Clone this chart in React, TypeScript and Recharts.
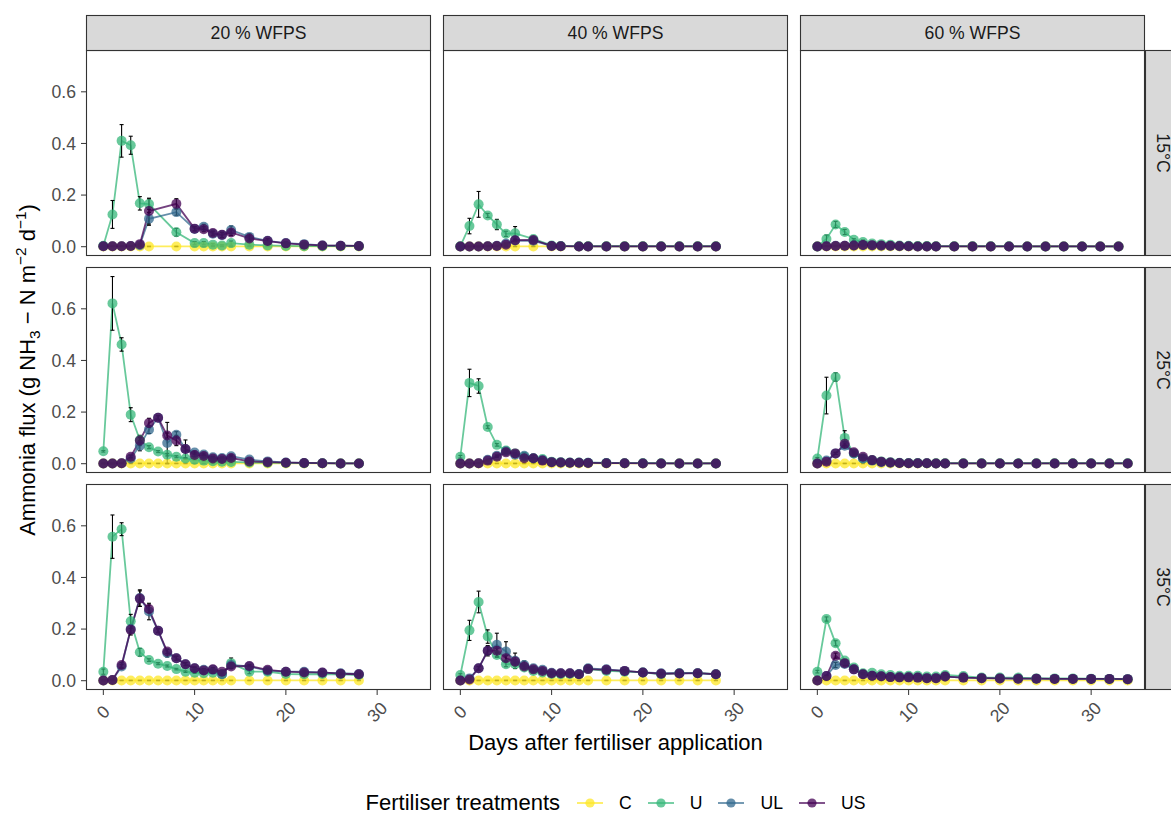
import { LineChart, Line, XAxis, YAxis, ErrorBar } from "recharts";

// sampling days (one list per sampling scheme)
const daysA = [0, 1, 2, 3, 4, 5, 8, 10, 11, 12, 13, 14, 16, 18, 20, 22, 24, 26, 28];
const daysB = [0, 1, 2, 3, 4, 5, 6, 8, 10, 11, 13, 14, 16, 18, 20, 22, 24, 26, 28];
const daysC = [0, 1, 2, 3, 4, 5, 6, 7, 8, 9, 10, 11, 12, 13, 15, 17, 19, 21, 23, 25, 27, 29, 31, 33];
const daysD = [0, 1, 2, 3, 4, 5, 6, 7, 8, 9, 10, 11, 12, 13, 14, 16, 18, 20, 22, 24, 26, 28];
const daysE = [0, 1, 2, 3, 4, 5, 6, 7, 8, 9, 10, 11, 12, 13, 14, 16, 18, 20, 22, 24, 26, 28, 30, 32, 34];

// 15°C, 20 % WFPS
const c15w20 = [0.001, 0.001, 0.001, 0.001, 0.001, 0.001, 0.001, 0.001, 0.001, 0.001, 0.001, 0.001, 0.001, 0.001, 0.001, 0.001, 0.001, 0.001, 0.001];
const u15w20 = [0.004, 0.125, 0.41, 0.393, 0.168, 0.165, 0.056, 0.014, 0.014, 0.008, 0.005, 0.014, 0.008, 0.005, 0.003, 0.002, 0.002, 0.002, 0.002];
const ul15w20 = [0.002, 0.002, 0.002, 0.003, 0.006, 0.108, 0.134, 0.069, 0.077, 0.05, 0.045, 0.065, 0.038, 0.023, 0.014, 0.01, 0.005, 0.004, 0.003];
const us15w20 = [0.002, 0.002, 0.002, 0.003, 0.01, 0.138, 0.166, 0.07, 0.068, 0.053, 0.046, 0.055, 0.032, 0.022, 0.013, 0.008, 0.005, 0.004, 0.003];
const seC15w20 = [0.001, 0.001, 0.001, 0.001, 0.001, 0.001, 0.001, 0.001, 0.001, 0.001, 0.001, 0.001, 0.001, 0.001, 0.001, 0.001, 0.001, 0.001, 0.001];
const seU15w20 = [0.002, 0.054, 0.063, 0.035, 0.026, 0.02, 0.015, 0.006, 0.006, 0.004, 0.003, 0.008, 0.004, 0.003, 0.002, 0.002, 0.001, 0.001, 0.001];
const seUL15w20 = [0.001, 0.001, 0.001, 0.001, 0.002, 0.025, 0.012, 0.008, 0.01, 0.008, 0.01, 0.015, 0.012, 0.008, 0.004, 0.004, 0.002, 0.001, 0.001];
const seUS15w20 = [0.001, 0.001, 0.001, 0.001, 0.004, 0.05, 0.02, 0.008, 0.01, 0.008, 0.01, 0.012, 0.01, 0.008, 0.004, 0.004, 0.002, 0.001, 0.001];

// 15°C, 40 % WFPS
const c15w40 = [0.001, 0.001, 0.001, 0.001, 0.001, 0.001, 0.001, 0.001, 0.001, 0.001, 0.001, 0.001, 0.001, 0.001, 0.001, 0.001, 0.001, 0.001, 0.001];
const u15w40 = [0.002, 0.08, 0.164, 0.121, 0.086, 0.05, 0.052, 0.03, 0.005, 0.003, 0.002, 0.002, 0.002, 0.002, 0.002, 0.002, 0.002, 0.002, 0.002];
const ul15w40 = [0.001, 0.001, 0.001, 0.002, 0.004, 0.012, 0.024, 0.023, 0.003, 0.002, 0.001, 0.001, 0.001, 0.001, 0.001, 0.001, 0.001, 0.001, 0.001];
const us15w40 = [0.001, 0.001, 0.001, 0.002, 0.003, 0.008, 0.025, 0.026, 0.003, 0.002, 0.001, 0.001, 0.001, 0.001, 0.001, 0.001, 0.001, 0.001, 0.001];
const seC15w40 = [0.001, 0.001, 0.001, 0.001, 0.001, 0.001, 0.001, 0.001, 0.001, 0.001, 0.001, 0.001, 0.001, 0.001, 0.001, 0.001, 0.001, 0.001, 0.001];
const seU15w40 = [0.001, 0.03, 0.05, 0.008, 0.02, 0.01, 0.026, 0.005, 0.002, 0.001, 0.001, 0.001, 0.001, 0.001, 0.001, 0.001, 0.001, 0.001, 0.001];
const seUL15w40 = [0.001, 0.001, 0.001, 0.001, 0.001, 0.003, 0.005, 0.004, 0.001, 0.001, 0.001, 0.001, 0.001, 0.001, 0.001, 0.001, 0.001, 0.001, 0.001];
const seUS15w40 = [0.001, 0.001, 0.001, 0.001, 0.001, 0.003, 0.005, 0.004, 0.001, 0.001, 0.001, 0.001, 0.001, 0.001, 0.001, 0.001, 0.001, 0.001, 0.001];

// 15°C, 60 % WFPS
const c15w60 = [0.001, 0.001, 0.001, 0.001, 0.001, 0.001, 0.001, 0.001, 0.001, 0.001, 0.001, 0.001, 0.001, 0.001, 0.001, 0.001, 0.001, 0.001, 0.001, 0.001, 0.001, 0.001, 0.001, 0.001];
const u15w60 = [0.001, 0.03, 0.086, 0.057, 0.027, 0.018, 0.012, 0.01, 0.008, 0.005, 0.004, 0.003, 0.003, 0.002, 0.002, 0.002, 0.002, 0.002, 0.001, 0.001, 0.001, 0.001, 0.001, 0.001];
const ul15w60 = [0.001, 0.002, 0.004, 0.004, 0.005, 0.006, 0.005, 0.004, 0.003, 0.002, 0.002, 0.001, 0.001, 0.001, 0.001, 0.001, 0.001, 0.001, 0.001, 0.001, 0.001, 0.001, 0.001, 0.001];
const us15w60 = [0.001, 0.002, 0.003, 0.004, 0.005, 0.007, 0.006, 0.005, 0.004, 0.003, 0.002, 0.001, 0.001, 0.001, 0.001, 0.001, 0.001, 0.001, 0.001, 0.001, 0.001, 0.001, 0.001, 0.001];
const seC15w60 = [0.001, 0.001, 0.001, 0.001, 0.001, 0.001, 0.001, 0.001, 0.001, 0.001, 0.001, 0.001, 0.001, 0.001, 0.001, 0.001, 0.001, 0.001, 0.001, 0.001, 0.001, 0.001, 0.001, 0.001];
const seU15w60 = [0.001, 0.015, 0.012, 0.01, 0.004, 0.008, 0.002, 0.002, 0.001, 0.001, 0.001, 0.001, 0.001, 0.001, 0.001, 0.001, 0.001, 0.001, 0.001, 0.001, 0.001, 0.001, 0.001, 0.001];
const seUL15w60 = [0.001, 0.001, 0.001, 0.001, 0.001, 0.002, 0.001, 0.001, 0.001, 0.001, 0.001, 0.001, 0.001, 0.001, 0.001, 0.001, 0.001, 0.001, 0.001, 0.001, 0.001, 0.001, 0.001, 0.001];
const seUS15w60 = [0.001, 0.001, 0.001, 0.001, 0.001, 0.002, 0.001, 0.001, 0.001, 0.001, 0.001, 0.001, 0.001, 0.001, 0.001, 0.001, 0.001, 0.001, 0.001, 0.001, 0.001, 0.001, 0.001, 0.001];

// 25°C, 20 % WFPS
const c25w20 = [0.001, 0.001, 0.001, 0.001, 0.001, 0.001, 0.001, 0.001, 0.001, 0.001, 0.001, 0.001, 0.001, 0.001, 0.001, 0.001, 0.001, 0.001, 0.001, 0.001, 0.001, 0.001];
const u25w20 = [0.048, 0.621, 0.462, 0.19, 0.092, 0.064, 0.047, 0.035, 0.027, 0.02, 0.015, 0.012, 0.01, 0.008, 0.007, 0.005, 0.004, 0.003, 0.002, 0.002, 0.001, 0.001];
const ul25w20 = [0.001, 0.001, 0.002, 0.02, 0.07, 0.132, 0.178, 0.08, 0.112, 0.057, 0.043, 0.036, 0.025, 0.022, 0.029, 0.016, 0.009, 0.005, 0.003, 0.002, 0.001, 0.001];
const us25w20 = [0.001, 0.001, 0.002, 0.027, 0.09, 0.158, 0.178, 0.109, 0.09, 0.057, 0.034, 0.03, 0.02, 0.018, 0.022, 0.009, 0.006, 0.004, 0.003, 0.002, 0.001, 0.001];
const seC25w20 = [0.001, 0.001, 0.001, 0.001, 0.001, 0.001, 0.001, 0.001, 0.001, 0.001, 0.001, 0.001, 0.001, 0.001, 0.001, 0.001, 0.001, 0.001, 0.001, 0.001, 0.001, 0.001];
const seU25w20 = [0.003, 0.104, 0.026, 0.027, 0.01, 0.006, 0.004, 0.005, 0.004, 0.003, 0.003, 0.003, 0.002, 0.002, 0.002, 0.002, 0.001, 0.001, 0.001, 0.001, 0.001, 0.001];
const seUL25w20 = [0.001, 0.001, 0.001, 0.004, 0.02, 0.015, 0.008, 0.08, 0.012, 0.035, 0.006, 0.005, 0.004, 0.004, 0.005, 0.003, 0.002, 0.001, 0.001, 0.001, 0.001, 0.001];
const seUS25w20 = [0.001, 0.001, 0.001, 0.006, 0.02, 0.018, 0.008, 0.01, 0.02, 0.008, 0.008, 0.004, 0.004, 0.004, 0.008, 0.002, 0.002, 0.001, 0.001, 0.001, 0.001, 0.001];

// 25°C, 40 % WFPS
const c25w40 = [0.001, 0.001, 0.001, 0.001, 0.001, 0.001, 0.001, 0.001, 0.001, 0.001, 0.001, 0.001, 0.001, 0.001, 0.001, 0.001, 0.001, 0.001, 0.001, 0.001, 0.001, 0.001];
const u25w40 = [0.027, 0.313, 0.301, 0.142, 0.073, 0.051, 0.04, 0.027, 0.021, 0.018, 0.008, 0.006, 0.005, 0.005, 0.004, 0.003, 0.002, 0.002, 0.002, 0.001, 0.001, 0.001];
const ul25w40 = [0.001, 0.001, 0.002, 0.015, 0.031, 0.048, 0.035, 0.031, 0.021, 0.014, 0.006, 0.005, 0.004, 0.004, 0.004, 0.003, 0.002, 0.002, 0.001, 0.001, 0.001, 0.001];
const us25w40 = [0.001, 0.001, 0.002, 0.012, 0.027, 0.044, 0.04, 0.021, 0.021, 0.012, 0.006, 0.005, 0.004, 0.004, 0.003, 0.002, 0.002, 0.001, 0.001, 0.001, 0.001, 0.001];
const seC25w40 = [0.001, 0.001, 0.001, 0.001, 0.001, 0.001, 0.001, 0.001, 0.001, 0.001, 0.001, 0.001, 0.001, 0.001, 0.001, 0.001, 0.001, 0.001, 0.001, 0.001, 0.001, 0.001];
const seU25w40 = [0.005, 0.053, 0.028, 0.005, 0.005, 0.003, 0.003, 0.002, 0.002, 0.002, 0.002, 0.001, 0.001, 0.001, 0.001, 0.001, 0.001, 0.001, 0.001, 0.001, 0.001, 0.001];
const seUL25w40 = [0.001, 0.001, 0.001, 0.002, 0.003, 0.004, 0.004, 0.012, 0.003, 0.002, 0.002, 0.001, 0.001, 0.001, 0.001, 0.001, 0.001, 0.001, 0.001, 0.001, 0.001, 0.001];
const seUS25w40 = [0.001, 0.001, 0.001, 0.002, 0.003, 0.004, 0.004, 0.003, 0.012, 0.002, 0.002, 0.001, 0.001, 0.001, 0.001, 0.001, 0.001, 0.001, 0.001, 0.001, 0.001, 0.001];

// 25°C, 60 % WFPS
const c25w60 = [0.001, 0.001, 0.001, 0.001, 0.001, 0.001, 0.001, 0.001, 0.001, 0.001, 0.001, 0.001, 0.001, 0.001, 0.001, 0.001, 0.001, 0.001, 0.001, 0.001, 0.001, 0.001, 0.001, 0.001, 0.001];
const u25w60 = [0.02, 0.264, 0.336, 0.1, 0.04, 0.02, 0.014, 0.009, 0.006, 0.004, 0.003, 0.003, 0.002, 0.002, 0.002, 0.002, 0.002, 0.002, 0.002, 0.002, 0.002, 0.002, 0.002, 0.002, 0.002];
const ul25w60 = [0.001, 0.012, 0.04, 0.07, 0.04, 0.02, 0.012, 0.006, 0.004, 0.003, 0.002, 0.002, 0.002, 0.001, 0.001, 0.001, 0.001, 0.001, 0.001, 0.001, 0.001, 0.001, 0.001, 0.001, 0.001];
const us25w60 = [0.001, 0.008, 0.04, 0.077, 0.044, 0.027, 0.014, 0.008, 0.005, 0.003, 0.002, 0.002, 0.002, 0.001, 0.001, 0.001, 0.001, 0.001, 0.001, 0.001, 0.001, 0.001, 0.001, 0.001, 0.001];
const seC25w60 = [0.001, 0.001, 0.001, 0.001, 0.001, 0.001, 0.001, 0.001, 0.001, 0.001, 0.001, 0.001, 0.001, 0.001, 0.001, 0.001, 0.001, 0.001, 0.001, 0.001, 0.001, 0.001, 0.001, 0.001, 0.001];
const seU25w60 = [0.004, 0.071, 0.016, 0.028, 0.003, 0.002, 0.002, 0.001, 0.001, 0.001, 0.001, 0.001, 0.001, 0.001, 0.001, 0.001, 0.001, 0.001, 0.001, 0.001, 0.001, 0.001, 0.001, 0.001, 0.001];
const seUL25w60 = [0.001, 0.002, 0.004, 0.01, 0.006, 0.005, 0.002, 0.001, 0.001, 0.001, 0.001, 0.001, 0.001, 0.001, 0.001, 0.001, 0.001, 0.001, 0.001, 0.001, 0.001, 0.001, 0.001, 0.001, 0.001];
const seUS25w60 = [0.001, 0.002, 0.004, 0.008, 0.005, 0.004, 0.002, 0.001, 0.001, 0.001, 0.001, 0.001, 0.001, 0.001, 0.001, 0.001, 0.001, 0.001, 0.001, 0.001, 0.001, 0.001, 0.001, 0.001, 0.001];

// 35°C, 20 % WFPS
const c35w20 = [0.001, 0.001, 0.001, 0.001, 0.001, 0.001, 0.001, 0.001, 0.001, 0.001, 0.001, 0.001, 0.001, 0.001, 0.001, 0.001, 0.001, 0.001, 0.001, 0.001, 0.001, 0.001];
const u35w20 = [0.035, 0.558, 0.587, 0.23, 0.11, 0.08, 0.066, 0.057, 0.045, 0.035, 0.031, 0.029, 0.031, 0.025, 0.068, 0.035, 0.035, 0.026, 0.025, 0.026, 0.025, 0.022];
const ul35w20 = [0.001, 0.003, 0.055, 0.2, 0.32, 0.268, 0.194, 0.107, 0.087, 0.064, 0.048, 0.042, 0.042, 0.025, 0.061, 0.055, 0.039, 0.035, 0.035, 0.031, 0.029, 0.026];
const us35w20 = [0.001, 0.003, 0.061, 0.197, 0.318, 0.278, 0.194, 0.113, 0.087, 0.064, 0.048, 0.04, 0.044, 0.035, 0.055, 0.057, 0.042, 0.035, 0.032, 0.032, 0.027, 0.025];
const seC35w20 = [0.001, 0.001, 0.001, 0.001, 0.001, 0.001, 0.001, 0.001, 0.001, 0.001, 0.001, 0.001, 0.001, 0.001, 0.001, 0.001, 0.001, 0.001, 0.001, 0.001, 0.001, 0.001];
const seU35w20 = [0.01, 0.084, 0.025, 0.027, 0.015, 0.005, 0.004, 0.004, 0.003, 0.003, 0.003, 0.003, 0.003, 0.003, 0.02, 0.008, 0.004, 0.003, 0.003, 0.003, 0.003, 0.003];
const seUL35w20 = [0.001, 0.002, 0.008, 0.015, 0.032, 0.032, 0.008, 0.015, 0.008, 0.006, 0.005, 0.005, 0.008, 0.005, 0.008, 0.006, 0.004, 0.004, 0.004, 0.004, 0.004, 0.004];
const seUS35w20 = [0.001, 0.002, 0.01, 0.02, 0.03, 0.015, 0.006, 0.008, 0.008, 0.006, 0.005, 0.005, 0.005, 0.005, 0.006, 0.005, 0.004, 0.004, 0.004, 0.004, 0.003, 0.003];

// 35°C, 40 % WFPS
const c35w40 = [0.001, 0.001, 0.001, 0.001, 0.001, 0.001, 0.001, 0.001, 0.001, 0.001, 0.001, 0.001, 0.001, 0.001, 0.001, 0.001, 0.001, 0.001, 0.001, 0.001, 0.001, 0.001];
const u35w40 = [0.022, 0.195, 0.305, 0.171, 0.1, 0.064, 0.064, 0.051, 0.038, 0.032, 0.026, 0.025, 0.026, 0.025, 0.045, 0.038, 0.035, 0.032, 0.025, 0.029, 0.029, 0.025];
const ul35w40 = [0.001, 0.009, 0.048, 0.116, 0.139, 0.113, 0.077, 0.061, 0.048, 0.042, 0.031, 0.029, 0.029, 0.026, 0.048, 0.044, 0.038, 0.032, 0.029, 0.029, 0.029, 0.025];
const us35w40 = [0.001, 0.005, 0.048, 0.116, 0.116, 0.087, 0.074, 0.055, 0.044, 0.038, 0.029, 0.029, 0.029, 0.025, 0.045, 0.042, 0.038, 0.032, 0.027, 0.028, 0.029, 0.025];
const seC35w40 = [0.001, 0.001, 0.001, 0.001, 0.001, 0.001, 0.001, 0.001, 0.001, 0.001, 0.001, 0.001, 0.001, 0.001, 0.001, 0.001, 0.001, 0.001, 0.001, 0.001, 0.001, 0.001];
const seU35w40 = [0.005, 0.039, 0.042, 0.026, 0.01, 0.01, 0.008, 0.006, 0.004, 0.004, 0.004, 0.003, 0.004, 0.003, 0.006, 0.005, 0.004, 0.004, 0.003, 0.003, 0.003, 0.003];
const seUL35w40 = [0.001, 0.002, 0.008, 0.015, 0.045, 0.038, 0.03, 0.015, 0.006, 0.006, 0.005, 0.004, 0.005, 0.004, 0.005, 0.005, 0.004, 0.004, 0.004, 0.004, 0.004, 0.003];
const seUS35w40 = [0.001, 0.002, 0.006, 0.02, 0.01, 0.01, 0.008, 0.008, 0.005, 0.005, 0.004, 0.004, 0.004, 0.004, 0.005, 0.004, 0.004, 0.004, 0.003, 0.003, 0.003, 0.003];

// 35°C, 60 % WFPS
const c35w60 = [0.001, 0.001, 0.001, 0.001, 0.001, 0.001, 0.001, 0.001, 0.001, 0.001, 0.001, 0.001, 0.001, 0.001, 0.001, 0.001, 0.001, 0.001, 0.001, 0.001, 0.001, 0.001, 0.001, 0.001, 0.001];
const u35w60 = [0.035, 0.239, 0.145, 0.078, 0.051, 0.029, 0.031, 0.025, 0.022, 0.019, 0.019, 0.019, 0.016, 0.016, 0.022, 0.018, 0.012, 0.012, 0.012, 0.009, 0.009, 0.009, 0.008, 0.007, 0.006];
const ul35w60 = [0.001, 0.018, 0.061, 0.065, 0.044, 0.025, 0.019, 0.017, 0.014, 0.013, 0.013, 0.012, 0.01, 0.01, 0.016, 0.012, 0.01, 0.009, 0.008, 0.008, 0.007, 0.007, 0.007, 0.007, 0.006];
const us35w60 = [0.001, 0.018, 0.097, 0.068, 0.044, 0.025, 0.019, 0.017, 0.014, 0.013, 0.013, 0.012, 0.01, 0.01, 0.016, 0.012, 0.01, 0.009, 0.008, 0.008, 0.007, 0.007, 0.007, 0.007, 0.006];
const seC35w60 = [0.001, 0.001, 0.001, 0.001, 0.001, 0.001, 0.001, 0.001, 0.001, 0.001, 0.001, 0.001, 0.001, 0.001, 0.001, 0.001, 0.001, 0.001, 0.001, 0.001, 0.001, 0.001, 0.001, 0.001, 0.001];
const seU35w60 = [0.005, 0.008, 0.01, 0.005, 0.004, 0.003, 0.002, 0.002, 0.002, 0.002, 0.002, 0.002, 0.002, 0.002, 0.002, 0.002, 0.002, 0.002, 0.002, 0.002, 0.002, 0.002, 0.002, 0.002, 0.002];
const seUL35w60 = [0.001, 0.003, 0.01, 0.008, 0.004, 0.015, 0.003, 0.002, 0.002, 0.002, 0.002, 0.002, 0.002, 0.002, 0.002, 0.002, 0.002, 0.002, 0.002, 0.002, 0.002, 0.002, 0.002, 0.002, 0.002];
const seUS35w60 = [0.001, 0.003, 0.01, 0.008, 0.004, 0.003, 0.003, 0.002, 0.002, 0.002, 0.002, 0.002, 0.002, 0.002, 0.002, 0.002, 0.002, 0.002, 0.002, 0.002, 0.002, 0.002, 0.002, 0.002, 0.002];

const wfpsLabels = ["20 % WFPS", "40 % WFPS", "60 % WFPS"];
const tempLabels = ["15°C", "25°C", "35°C"];
const treatments = ["C", "U", "UL", "US"];
const xTicks = [0, 10, 20, 30];
const yTicks = [0, 0.2, 0.4, 0.6];

const COLORS: Record<string, string> = {
  C: "#FDE725",
  U: "#35B779",
  UL: "#31688E",
  US: "#440154",
};

type Panel = { days: number[]; vals: number[][]; errs: number[][] };

// rows = temperature, columns = WFPS; vals/errs in order C, U, UL, US
const panels: Panel[][] = [
  [
    { days: daysA, vals: [c15w20, u15w20, ul15w20, us15w20], errs: [seC15w20, seU15w20, seUL15w20, seUS15w20] },
    { days: daysB, vals: [c15w40, u15w40, ul15w40, us15w40], errs: [seC15w40, seU15w40, seUL15w40, seUS15w40] },
    { days: daysC, vals: [c15w60, u15w60, ul15w60, us15w60], errs: [seC15w60, seU15w60, seUL15w60, seUS15w60] },
  ],
  [
    { days: daysD, vals: [c25w20, u25w20, ul25w20, us25w20], errs: [seC25w20, seU25w20, seUL25w20, seUS25w20] },
    { days: daysD, vals: [c25w40, u25w40, ul25w40, us25w40], errs: [seC25w40, seU25w40, seUL25w40, seUS25w40] },
    { days: daysE, vals: [c25w60, u25w60, ul25w60, us25w60], errs: [seC25w60, seU25w60, seUL25w60, seUS25w60] },
  ],
  [
    { days: daysD, vals: [c35w20, u35w20, ul35w20, us35w20], errs: [seC35w20, seU35w20, seUL35w20, seUS35w20] },
    { days: daysD, vals: [c35w40, u35w40, ul35w40, us35w40], errs: [seC35w40, seU35w40, seUL35w40, seUS35w40] },
    { days: daysE, vals: [c35w60, u35w60, ul35w60, us35w60], errs: [seC35w60, seU35w60, seUL35w60, seUS35w60] },
  ],
];

// layout
const COL_X = [86, 443, 800];
const ROW_Y = [50, 267, 484];
const PW = 345;
const PH = 206;
const YW = 60;
const XH = 40;
const STRIP = 35;
const FONT = "'Liberation Sans', Arial, Helvetica, sans-serif";
const ALPHA = 0.75;

const XTick = (props: any) => {
  const { x, y, payload } = props;
  const cy = y + 15;
  return (
    <text
      x={x}
      y={cy}
      textAnchor="middle"
      dominantBaseline="central"
      fill="#4D4D4D"
      fontSize={17.6}
      transform={`rotate(-45 ${x} ${cy})`}
    >
      {payload.value}
    </text>
  );
};

function FacetPanel({ p, left, top, showX, showY }: { p: Panel; left: number; top: number; showX: boolean; showY: boolean }) {
  const rows = p.days.map((day, i) => {
    const r: Record<string, number> = { day };
    treatments.forEach((k, j) => {
      r[k] = p.vals[j][i];
      r["se" + k] = p.errs[j][i];
    });
    return r;
  });
  const w = PW + (showY ? YW : 0);
  const h = PH + (showX ? XH : 0);

  return (
    <div style={{ position: "absolute", left: left - (showY ? YW : 0), top, width: w, height: h }}>
      <LineChart width={w} height={h} data={rows} margin={{ top: 0, right: 0, bottom: 0, left: 0 }}>
        <XAxis
          type="number"
          dataKey="day"
          domain={[-1.9, 35.9]}
          ticks={xTicks}
          interval={0}
          allowDataOverflow
          hide={!showX}
          height={XH}
          axisLine={false}
          tickSize={5}
          tickLine={{ stroke: "#333333" }}
          tick={<XTick />}
        />
        <YAxis
          type="number"
          domain={[-0.036, 0.762]}
          ticks={yTicks}
          interval={0}
          allowDataOverflow
          hide={!showY}
          width={YW}
          axisLine={false}
          tickSize={5}
          tickMargin={5}
          tickLine={{ stroke: "#333333" }}
          tick={{ fill: "#4D4D4D", fontSize: 17.6 }}
          tickFormatter={(v: number) => v.toFixed(1)}
        />
        {treatments.map((k) => (
          <Line
            key={k}
            type="linear"
            dataKey={k}
            stroke={COLORS[k]}
            strokeOpacity={ALPHA}
            strokeWidth={1.8}
            dot={{ r: 5, fill: COLORS[k], fillOpacity: ALPHA, stroke: "none" }}
            activeDot={false}
            isAnimationActive={false}
          />
        ))}
        {treatments.map((k) => (
          <Line
            key={"err" + k}
            type="linear"
            dataKey={k}
            stroke="none"
            dot={false}
            activeDot={false}
            isAnimationActive={false}
          >
            <ErrorBar dataKey={"se" + k} width={2} stroke="#000000" strokeWidth={1.1} direction="y" />
          </Line>
        ))}
      </LineChart>
    </div>
  );
}

export default function App() {
  return (
    <div
      style={{
        position: "fixed",
        left: 0,
        top: 0,
        width: 1171,
        height: 814,
        overflow: "hidden",
        background: "#fff",
        fontFamily: FONT,
      }}
    >
      {panels.map((row, ri) =>
        row.map((p, ci) => (
          <FacetPanel
            key={`${ri}-${ci}`}
            p={p}
            left={COL_X[ci]}
            top={ROW_Y[ri]}
            showX={ri === 2}
            showY={ci === 0}
          />
        ))
      )}

      <svg width={1171} height={814} style={{ position: "absolute", left: 0, top: 0, pointerEvents: "none" }}>
        {/* panel borders */}
        {ROW_Y.map((y) =>
          COL_X.map((x) => (
            <rect key={`${x}-${y}`} x={x + 0.5} y={y + 0.5} width={PW - 1} height={PH - 1} fill="none" stroke="#333333" strokeWidth={1.1} />
          ))
        )}
        {/* column strips */}
        {COL_X.map((x, i) => (
          <g key={"cs" + i}>
            <rect x={x + 0.5} y={50 - STRIP + 0.5} width={PW - 1} height={STRIP} fill="#D9D9D9" stroke="#333333" strokeWidth={1.1} />
            <text x={x + PW / 2} y={50 - STRIP / 2} textAnchor="middle" dominantBaseline="central" fontSize={17.6} fill="#1A1A1A">
              {wfpsLabels[i]}
            </text>
          </g>
        ))}
        {/* row strips */}
        {ROW_Y.map((y, i) => (
          <g key={"rs" + i}>
            <rect x={1145.5} y={y + 0.5} width={STRIP} height={PH - 1} fill="#D9D9D9" stroke="#333333" strokeWidth={1.1} />
            <text
              x={1145 + STRIP / 2}
              y={y + PH / 2}
              textAnchor="middle"
              dominantBaseline="central"
              fontSize={17.6}
              fill="#1A1A1A"
              transform={`rotate(90 ${1145 + STRIP / 2} ${y + PH / 2})`}
            >
              {tempLabels[i]}
            </text>
          </g>
        ))}
        {/* y axis title */}
        <text transform="translate(35 370) rotate(-90)" textAnchor="middle" fontSize={22} fill="#000">
          Ammonia flux (g NH
          <tspan dy={5} fontSize={15.4}>3</tspan>
          <tspan dy={-5}> − N m</tspan>
          <tspan dy={-9} fontSize={15.4}>−2</tspan>
          <tspan dy={9}> d</tspan>
          <tspan dy={-9} fontSize={15.4}>−1</tspan>
          <tspan dy={9}>)</tspan>
        </text>
        {/* x axis title */}
        <text x={615.5} y={750} textAnchor="middle" fontSize={22} fill="#000">
          Days after fertiliser application
        </text>
      </svg>

      {/* legend */}
      <div
        style={{
          position: "absolute",
          left: 86,
          width: 1059,
          top: 792,
          height: 22,
          lineHeight: "22px",
          display: "flex",
          alignItems: "center",
          justifyContent: "center",
          whiteSpace: "nowrap",
        }}
      >
        <span style={{ fontSize: 22, marginRight: 17 }}>Fertiliser treatments</span>
        {treatments.map((k, i) => (
          <span key={k} style={{ display: "flex", alignItems: "center" }}>
            <svg width={26} height={18}>
              <line x1={0} y1={9} x2={26} y2={9} stroke={COLORS[k]} strokeOpacity={ALPHA} strokeWidth={1.8} />
              <circle cx={13} cy={9} r={4.6} fill={COLORS[k]} fillOpacity={ALPHA} />
            </svg>
            <span style={{ fontSize: 17.6, marginLeft: 16, marginRight: i < treatments.length - 1 ? 16 : 0 }}>{k}</span>
          </span>
        ))}
      </div>
    </div>
  );
}
